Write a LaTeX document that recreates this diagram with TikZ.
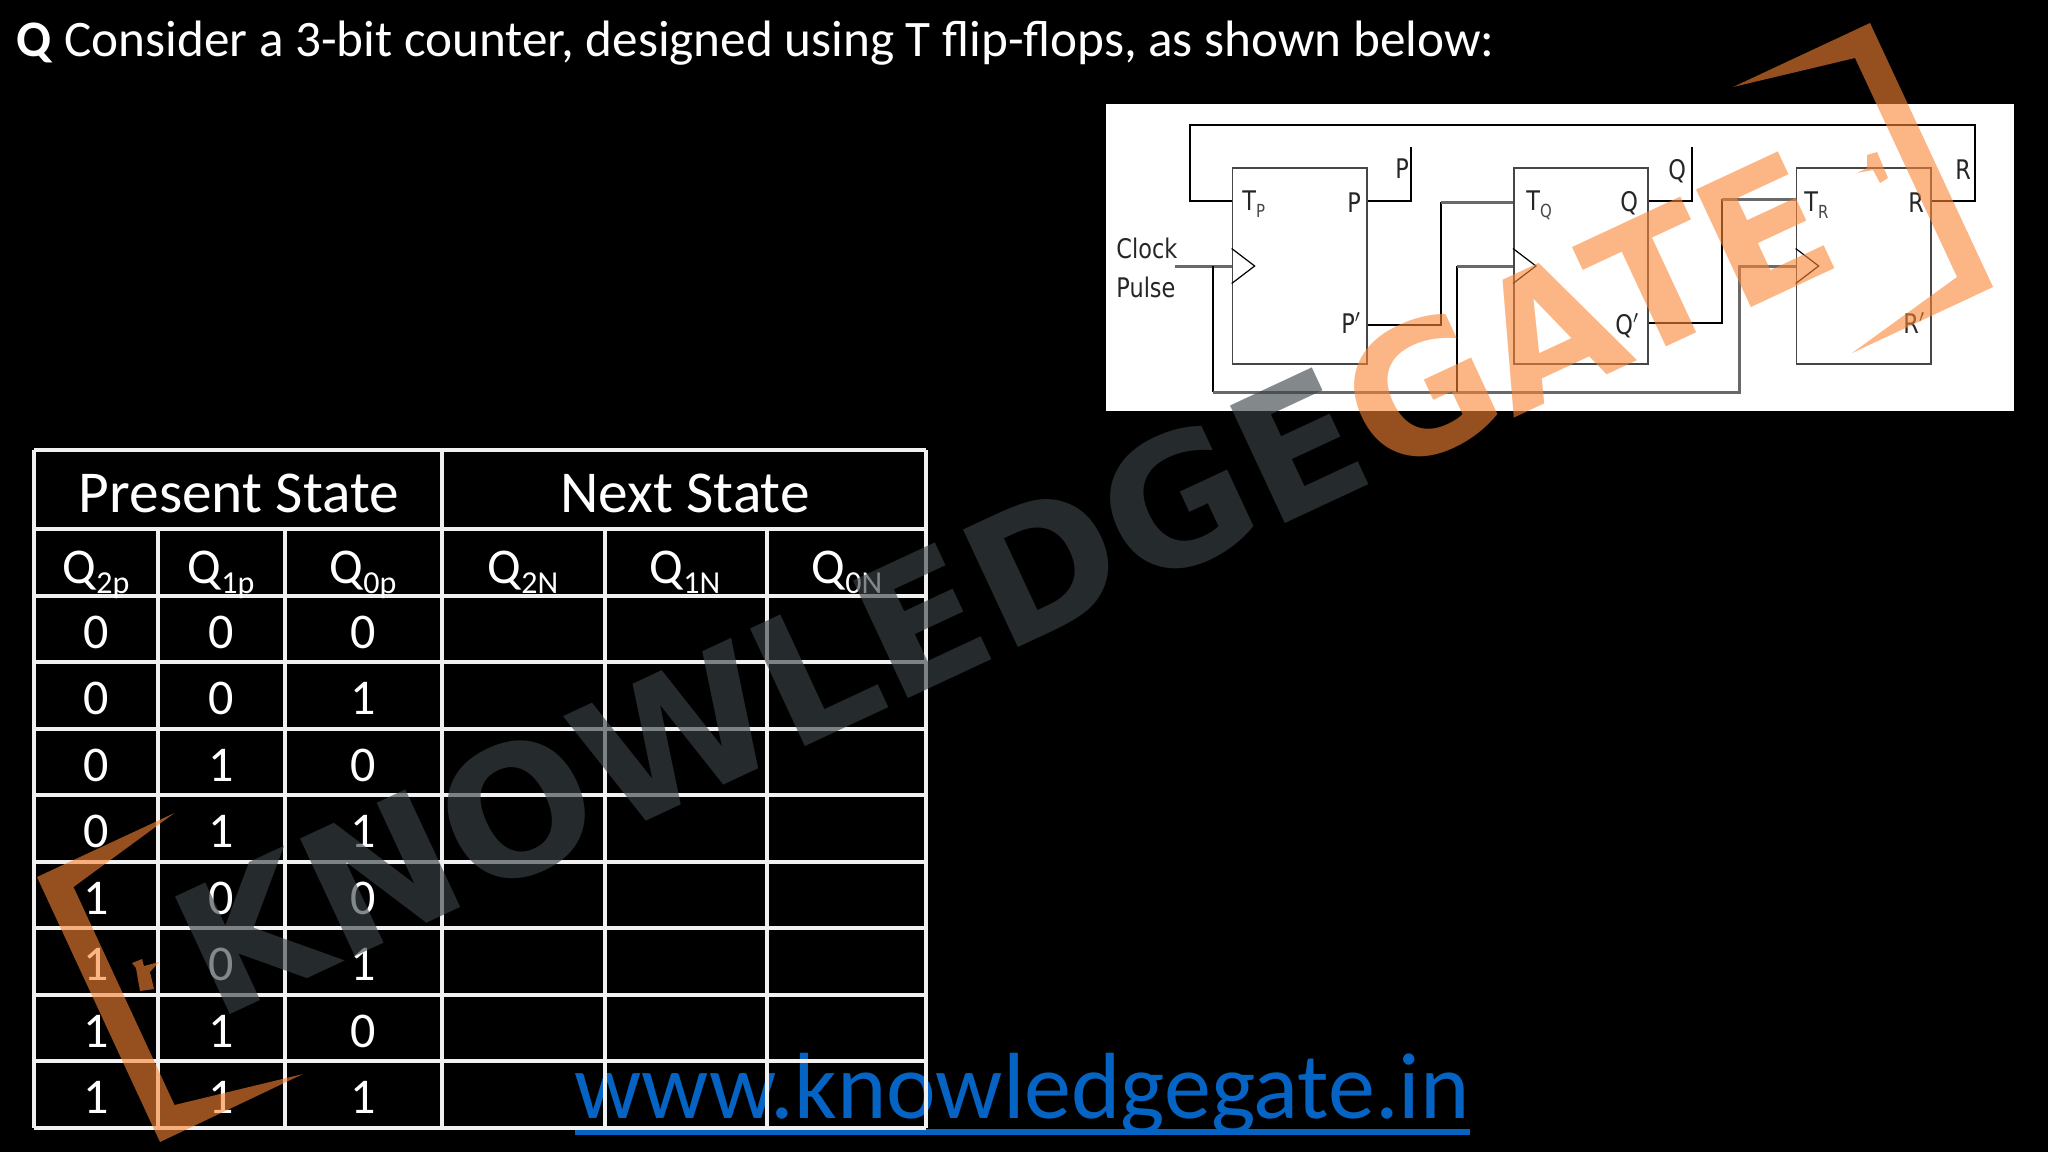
\documentclass[tikz,border=0pt]{standalone}
\usepackage{fontspec}
\setmainfont{Carlito}
\newfontfamily\ffont[FakeStretch=.83]{DejaVu Sans}
\newfontfamily\markfont{DejaVu Sans}
\definecolor{gateorange}{RGB}{250,133,50}
\definecolor{markgray}{RGB}{59,67,71}
\definecolor{linkblue}{RGB}{5,100,195}
\definecolor{wiregray}{RGB}{105,105,105}
\definecolor{boxgray}{RGB}{70,70,70}
\newcommand{\qsub}[1]{Q\raisebox{-5pt}{\fontsize{16}{16}\selectfont #1}}
\newcommand{\tsub}[1]{T\raisebox{-3.5pt}{\fontsize{9}{9}\selectfont\color{boxgray} #1}}
\tikzset{
  ffbox/.style={draw=boxgray,line width=.8pt,minimum width=134.5*.5pt,minimum height=196*.5pt,inner sep=0pt},
  ffwire/.style={draw=black,line width=.8pt},
  ckwire/.style={draw=wiregray,line width=1.5pt},
  fflabel/.style={anchor=base west,inner sep=0pt,text=black!85,font=\ffont\fontsize{13.5}{14}\selectfont},
  cell/.style={anchor=base,inner sep=0pt,text=white,font=\fontsize{25}{26}\selectfont},
  head/.style={anchor=base,inner sep=0pt,text=white,font=\fontsize{29.7}{30}\selectfont},
  grid/.style={draw=white!94!black,line width=2pt},
  orangemark/.style={fill=gateorange,opacity=.6},
  wmark/.style={anchor=base west,inner sep=0pt,rotate=25,font=\markfont\bfseries\fontsize{89}{90}\selectfont},
}
\begin{document}
\begin{tikzpicture}[x=.5pt,y=-.5pt]
\useasboundingbox (0,0) rectangle (2048,1152);
\fill[black] (0,0) rectangle (2048,1152);

\node[anchor=base west,inner sep=0pt,text=white,font=\fontsize{25.6}{26}\selectfont] (title) at (16,56) {\textbf{Q} Consider a 3-bit counter, designed using T flip-flops, as shown below:};

% link under the table
\node[anchor=base,inner sep=0pt,text=linkblue,font=\fontsize{47}{48}\selectfont] (link) at (1022,1118) {www.knowledgegate.in};
\fill[linkblue] (575,1129) rectangle (1470,1135);

% table
\foreach \y in {450,529,596,662,729,795,862,928,995,1061,1128}
  \path[grid] (34,\y) -- (926,\y);
\foreach \x in {34,442,926}
  \path[grid] (\x,450) -- (\x,1128);
\foreach \x in {158,285,605,767}
  \path[grid] (\x,529) -- (\x,1128);

\node[head] (present) at (239,512) {Present State};
\node[head] (next) at (685,512) {Next State};

\node[cell] (q2p) at (96,583) {\qsub{2p}};
\node[cell] (q1p) at (221,583) {\qsub{1p}};
\node[cell] (q0p) at (363,583) {\qsub{0p}};
\node[cell] (q2n) at (523,583) {\qsub{2N}};
\node[cell] (q1n) at (685,583) {\qsub{1N}};
\node[cell] (q0n) at (847,583) {\qsub{0N}};

\foreach \y/\a/\b/\c [count=\i] in {648/0/0/0,714.5/0/0/1,781/0/1/0,847.5/0/1/1,914/1/0/0,980.5/1/0/1,1047/1/1/0,1113.5/1/1/1}{
  \node[cell] (a\i) at (96,\y) {\a};
  \node[cell] (b\i) at (221,\y) {\b};
  \node[cell] (c\i) at (363,\y) {\c};
}

% circuit
\fill[white] (1106,104) rectangle (2014,411);

\node[ffbox] (ffp) at (1299.7,266) {};
\node[ffbox] (ffq) at (1581,266) {};
\node[ffbox] (ffr) at (1863.7,266) {};

\node[fflabel] (tp) at (1242,210) {\tsub{P}};
\node[fflabel] (po) at (1347,212) {P};
\node[fflabel] (pn) at (1341,333) {P$'$};
\node[fflabel] (pt) at (1395,178) {P};
\node[fflabel] (tq) at (1526,210) {\tsub{Q}};
\node[fflabel] (qo) at (1620,211) {Q};
\node[fflabel] (qn) at (1615,334) {Q$'$};
\node[fflabel] (qt) at (1668,179) {Q};
\node[fflabel] (tr) at (1804,211) {\tsub{R}};
\node[fflabel] (ro) at (1908,212) {R};
\node[fflabel] (rn) at (1903,333) {R$'$};
\node[fflabel] (rt) at (1955,179) {R};
\node[fflabel] (clock) at (1116,258) {Clock};
\node[fflabel] (pulse) at (1116,297) {Pulse};

\coordinate (ptin) at (ffp.west |- 0,201);
\coordinate (pout) at (ffp.east |- 0,201);
\coordinate (pbar) at (ffp.east |- 0,325);
\coordinate (qtin) at (ffq.west |- 0,202);
\coordinate (qout) at (ffq.east |- 0,201);
\coordinate (qbar) at (ffq.east |- 0,323);
\coordinate (rtin) at (ffr.west |- 0,199);
\coordinate (rout) at (ffr.east |- 0,201);
\coordinate (pck) at (ffp.west);
\coordinate (qck) at (ffq.west);
\coordinate (rck) at (ffr.west);
\coordinate (ckin) at (1175,266);
\coordinate (ckdown) at (1213,266);

\path[ffwire] (rout) -- (1975,201) -- (1975,125) -- (1190,125) -- (1190,201) -- (ptin);
\path[ffwire] (pout) -- (1411,201) -- (1411,147);
\path[ffwire] (qout) -- (1692,201) -- (1692,147);
\path[ffwire] (pbar) -- (1441,325) -- (1441,202);
\path[ckwire] (1441,202) -- (qtin);
\path[ffwire] (qbar) -- (1722,323) -- (1722,199);
\path[ckwire] (1722,199) -- (rtin);
\path[ckwire] (ckin) -- (pck);
\path[ffwire] (ckdown) -- (1213,392);
\path[ckwire] (1213,392) -- (1739,392) -- (1739,266) -- (rck);
\path[ffwire] (1457,392) -- (1457,266);
\path[ckwire] (1457,266) -- (qck);

\foreach \ff in {ffp,ffq,ffr}
  \path[draw=black,line width=.6pt] (\ff.west) ++(0,-17.5) -- ++(23,17.5) -- ++(-23,17.5);

% watermark
\node[wmark,text=markgray,text opacity=.63] (knowledge) at (215.5,1022) {KNOWLEDGE};
\node[wmark,text=gateorange,text opacity=.6] (gate) at (1381,480) {GATE};

\fill[orangemark] (174.5,813) -- (37,877) -- (160,1142) -- (303,1074) -- (174.5,1105) -- (73.5,887) -- cycle;
\fill[orangemark] (132,963) -- (142,959) -- (144,966) -- (159,962) -- (150,972) -- (154,989) -- (140,991) -- (136,968) -- cycle;
\fill[orangemark] (1733,87) -- (1870,23) -- (1993,287) -- (1852,353) -- (1957,277) -- (1855,58) -- cycle;
\fill[orangemark] (1857,173) -- (1867,168) -- (1867,155) -- (1877,152) -- (1888,178) -- (1880,183) -- (1873,170) -- cycle;
\end{tikzpicture}
\end{document}
